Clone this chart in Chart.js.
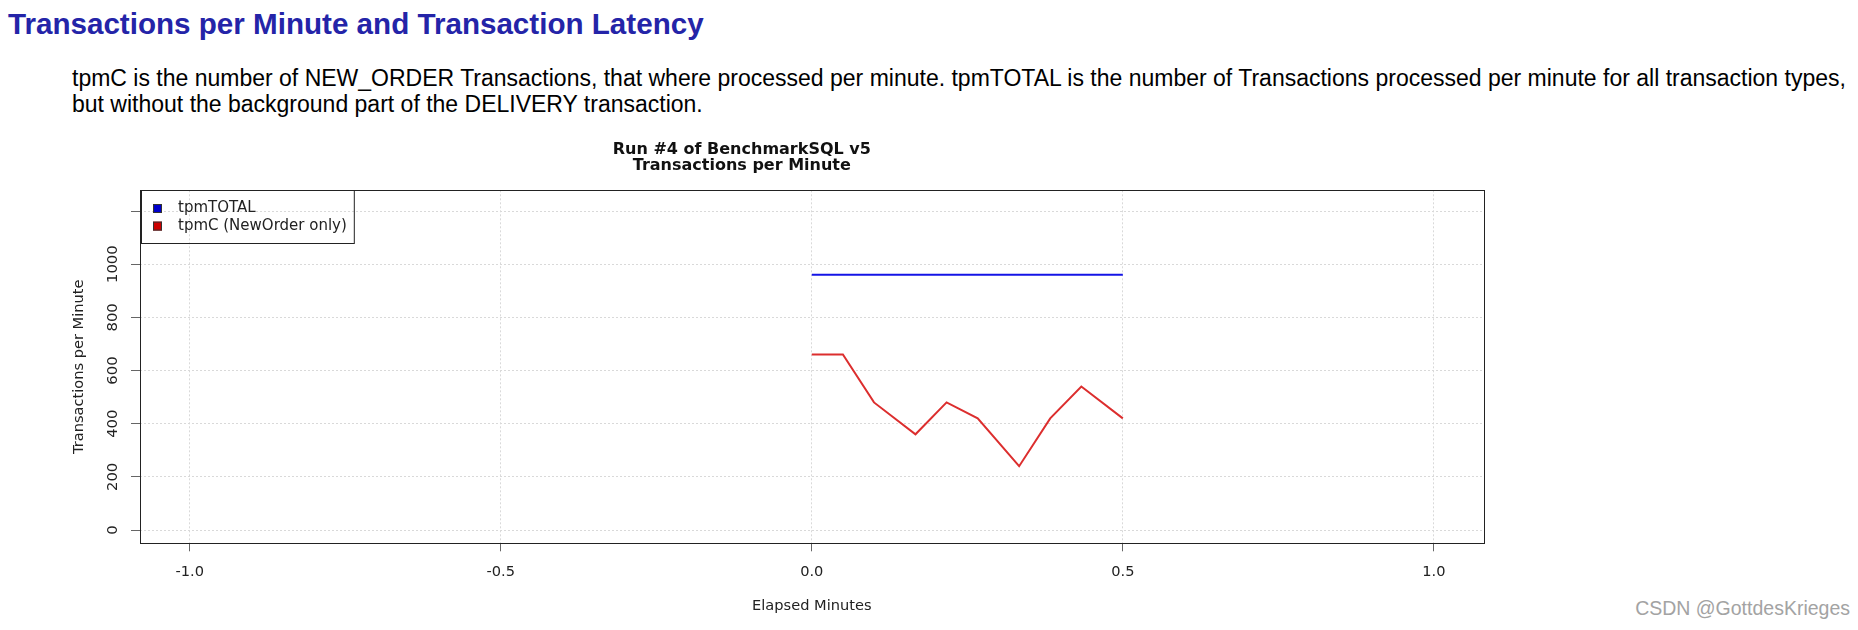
<!DOCTYPE html>
<html>
<head>
<meta charset="utf-8">
<script src="https://cdn.jsdelivr.net/npm/chart.js@4"></script>
<style>
  body { margin: 0; background: #fff; width: 1858px; height: 630px; position: relative; overflow: hidden; font-family: "Liberation Sans", Arial, sans-serif; }
  h2 { position: absolute; left: 8px; top: 9px; margin: 0; font-size: 29.6px; line-height: 30px; font-weight: bold; color: #2424a8; white-space: nowrap; }
  p { position: absolute; left: 72px; top: 65px; margin: 0; font-size: 23px; line-height: 26px; color: #000; white-space: nowrap; }
  #chart-box { position: absolute; left: 0; top: 120px; width: 1600px; height: 510px; }
  .mark { position: absolute; right: 8px; top: 597px; font-size: 19.5px; color: #a3a3a3; white-space: nowrap; }
</style>
</head>
<body>
<h2>Transactions per Minute and Transaction Latency</h2>
<p>tpmC is the number of NEW_ORDER Transactions, that where processed per minute. tpmTOTAL is the number of Transactions processed per minute for all transaction types,<br>but without the background part of the DELIVERY transaction.</p>
<div id="chart-box"><canvas id="tpmChart"></canvas></div>
<div class="mark">CSDN @GottdesKrieges</div>

<script>
// values
const elapsedMinutes = [0, 0.05, 0.1, 0.1667, 0.2167, 0.2667, 0.3333, 0.3833, 0.4333, 0.5];
const tpmTotal = [960, 960, 960, 960, 960, 960, 960, 960, 960, 960];
const tpmC = [660, 660, 480, 360, 480, 420, 240, 420, 540, 420];
const seriesLabels = ["tpmTOTAL", "tpmC (NewOrder only)"];
const yTickLabels = ["0", "200", "400", "600", "800", "1000"];
const titleLines = ["Run #4 of BenchmarkSQL v5", "Transactions per Minute"];

const axisFont = { family: "DejaVu Sans", size: 14.6 };

// R-style frame, rotated y labels and the boxed legend in the corner
const rFrame = {
  id: "rFrame",
  afterDraw(chart) {
    const { ctx, chartArea: a, scales } = chart;
    ctx.save();
    ctx.strokeStyle = "#222";
    ctx.lineWidth = 1;
    ctx.strokeRect(Math.round(a.left) + 0.5, Math.round(a.top) + 0.5, Math.round(a.right - a.left), Math.round(a.bottom - a.top));

    ctx.fillStyle = "#222";
    ctx.font = '14.8px "DejaVu Sans"';
    ctx.textAlign = "center";
    ctx.textBaseline = "middle";
    yTickLabels.forEach(lbl => {
      const y = scales.y.getPixelForValue(Number(lbl));
      ctx.save();
      ctx.translate(a.left - 27, y);
      ctx.rotate(-Math.PI / 2);
      ctx.fillText(lbl, 0, 0);
      ctx.restore();
    });

    // legend
    ctx.font = '15px "DejaVu Sans"';
    ctx.textAlign = "left";
    const ds = chart.data.datasets;
    const textW = Math.max(...ds.map(d => ctx.measureText(d.label).width));
    const bx = Math.round(a.left) + 1, by = Math.round(a.top);
    ctx.strokeStyle = "#222";
    ctx.strokeRect(bx + 0.5, by + 0.5, 37 + textW + 7, 53);
    ds.forEach((d, i) => {
      const cy = by + 18.5 + i * 17.6;
      ctx.fillStyle = d.legendFill;
      ctx.fillRect(a.left + 13, cy - 4.5, 9, 9);
      ctx.strokeStyle = "#333";
      ctx.strokeRect(a.left + 13 + 0.5, cy - 4.5 + 0.5, 8, 8);
      ctx.fillStyle = "#222";
      ctx.fillText(d.label, a.left + 38, cy);
    });
    ctx.restore();
  }
};

new Chart(document.getElementById("tpmChart"), {
  type: "line",
  data: {
    datasets: [
      {
        label: seriesLabels[0],
        data: elapsedMinutes.map((x, i) => ({ x, y: tpmTotal[i] })),
        borderColor: "#1414e6",
        legendFill: "#0000cc",
        borderWidth: 2,
        pointRadius: 0,
        tension: 0
      },
      {
        label: seriesLabels[1],
        data: elapsedMinutes.map((x, i) => ({ x, y: tpmC[i] })),
        borderColor: "#dc2e2e",
        legendFill: "#cc0000",
        borderWidth: 2,
        pointRadius: 0,
        tension: 0
      }
    ]
  },
  options: {
    responsive: true,
    maintainAspectRatio: false,
    animation: false,
    layout: { padding: { left: 0, right: 116.4, top: 0, bottom: 0 } },
    plugins: {
      legend: { display: false },
      tooltip: { enabled: false },
      title: {
        display: true,
        text: titleLines,
        color: "#111",
        font: { family: "DejaVu Sans", size: 16, weight: "bold", lineHeight: 1.05 },
        padding: { top: 21, bottom: 15.7 }
      }
    },
    scales: {
      x: {
        type: "linear",
        min: -1.08,
        max: 1.08,
        afterFit(s) { s.height = 86.7; },
        ticks: {
          stepSize: 0.5,
          includeBounds: false,
          maxRotation: 0,
          callback: v => v.toFixed(1),
          color: "#222",
          font: axisFont,
          padding: 12
        },
        grid: { color: "#d9d9d9", tickColor: "#666", tickLength: 8, tickBorderDash: [] },
        border: { display: false, dash: [2, 2] },
        title: { display: true, text: "Elapsed Minutes", color: "#222", font: axisFont, padding: { top: 0, bottom: 15 } }
      },
      y: {
        min: -50,
        max: 1278,
        afterFit(s) { s.width = 140; },
        ticks: { stepSize: 200, includeBounds: false, display: false },
        grid: { color: "#d9d9d9", tickColor: "#666", tickLength: 9, tickBorderDash: [] },
        border: { display: false, dash: [2, 2] },
        title: { display: true, text: "Transactions per Minute", color: "#222", font: axisFont, padding: { top: 70 } }
      }
    }
  },
  plugins: [rFrame]
});
</script>
</body>
</html>
